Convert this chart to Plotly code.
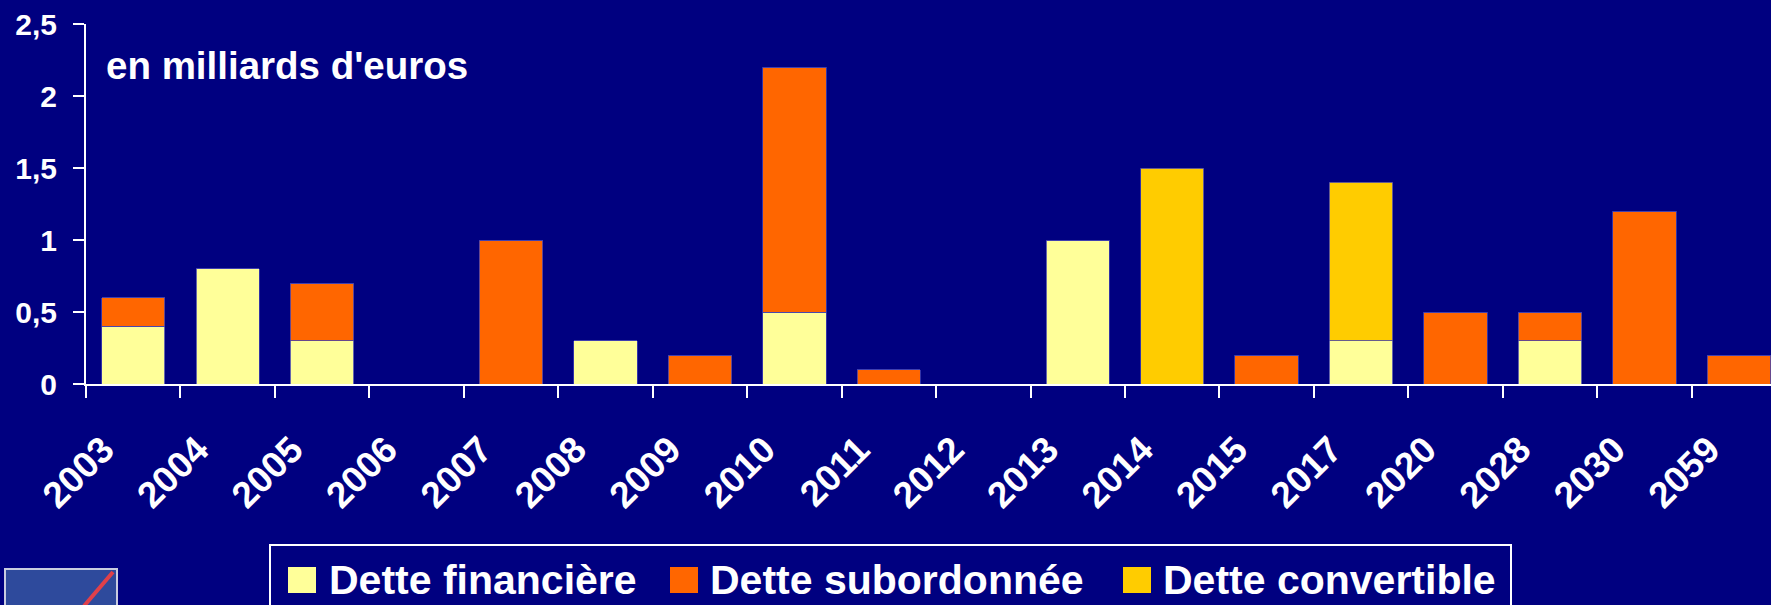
import plotly.graph_objects as go

years = ["2003", "2004", "2005", "2006", "2007", "2008", "2009", "2010", "2011",
         "2012", "2013", "2014", "2015", "2017", "2020", "2028", "2030", "2059"]
dette_financiere = [0.4, 0.8, 0.3, 0, 0, 0.3, 0, 0.5, 0, 0, 1.0, 0, 0, 0.3, 0, 0.3, 0, 0]
dette_subordonnee = [0.2, 0, 0.4, 0, 1.0, 0, 0.2, 1.7, 0.1, 0, 0, 0, 0.2, 0, 0.5, 0.2, 1.2, 0.2]
dette_convertible = [0, 0, 0, 0, 0, 0, 0, 0, 0, 0, 0, 1.5, 0, 1.1, 0, 0, 0, 0]
y_ticks = [0, 0.5, 1, 1.5, 2, 2.5]

NAVY = "#000080"
W, H = 1771, 605
L, T, B = 86, 24, 221
plot_w = W - L
plot_h = H - T - B
FONT = "Liberation Sans, Arial, sans-serif"

series = [
    ("Dette financière", dette_financiere, "#FFFF99"),
    ("Dette subordonnée", dette_subordonnee, "#FF6600"),
    ("Dette convertible", dette_convertible, "#FFCC00"),
]


def px(x):
    return (x - L) / plot_w


def py(y):
    return (H - B - y) / plot_h


fig = go.Figure()
for name, vals, color in series:
    fig.add_trace(go.Bar(
        x=years, y=vals, name=name,
        marker=dict(color=color, line=dict(color="#4040B0", width=0.8)),
        width=0.67,
    ))

fig.update_layout(
    barmode="stack",
    width=W, height=H,
    margin=dict(l=L, r=0, t=T, b=B),
    paper_bgcolor=NAVY, plot_bgcolor=NAVY,
    separators=", ",
    showlegend=False,
    font=dict(family=FONT, color="white", size=30, weight="bold"),
)
fig.update_xaxes(
    type="category", range=[-0.5, 17.34],
    showgrid=False, showline=True, linecolor="white", linewidth=2,
    ticks="outside", tickson="boundaries", ticklen=12, tickwidth=2, tickcolor="white",
    tickangle=-45, tickfont=dict(size=37, weight="bold", family=FONT, color="white"),
    ticklabelstandoff=27, ticklabelshift=-30,
)
fig.update_yaxes(
    range=[0, 2.5], tickvals=y_ticks, tickformat=".1~f",
    showgrid=False, zeroline=False, showline=True, linecolor="white", linewidth=2,
    ticks="outside", ticklen=11, tickwidth=2, tickcolor="white",
    tickfont=dict(size=30, weight="bold", family=FONT, color="white"),
    ticklabelstandoff=10,
)

fig.add_annotation(
    text="en milliards d'euros", xref="paper", yref="paper",
    x=px(104), y=py(65), xanchor="left", yanchor="middle", showarrow=False,
    font=dict(size=38.5, weight="bold", family=FONT, color="white"),
)

# legend box drawn by hand so the colour squares match the reference size
shapes = [dict(type="rect", xref="paper", yref="paper",
               x0=px(270), x1=px(1511), y0=py(545), y1=py(640),
               line=dict(color="white", width=2), fillcolor=NAVY, layer="below")]
legend_x = [(288, 327), (670, 708), (1123, 1161)]
for (sq_x, txt_x), (name, vals, color) in zip(legend_x, series):
    shapes.append(dict(type="rect", xref="paper", yref="paper",
                       x0=px(sq_x), x1=px(sq_x + 28), y0=py(567), y1=py(593),
                       line=dict(width=0), fillcolor=color))
    fig.add_annotation(
        text=name, xref="paper", yref="paper",
        x=px(txt_x), y=py(580), xanchor="left", yanchor="middle", showarrow=False,
        font=dict(size=41, weight="bold", family=FONT, color="white"),
    )

# little logo in the bottom left corner
shapes.append(dict(type="rect", xref="paper", yref="paper",
                   x0=px(5), x1=px(117), y0=py(569), y1=py(620),
                   line=dict(color="#C8CCE0", width=2), fillcolor="#2E4A9C"))
shapes.append(dict(type="line", xref="paper", yref="paper",
                   x0=px(113), x1=px(84), y0=py(572), y1=py(606),
                   line=dict(color="#E0404A", width=4)))
fig.update_layout(shapes=shapes)

# drop the default page margin so the figure sits in the corner
fig.write_html("out.html", config={"displayModeBar": False},
               post_script="document.body.style.margin='0';document.body.style.overflow='hidden';")
